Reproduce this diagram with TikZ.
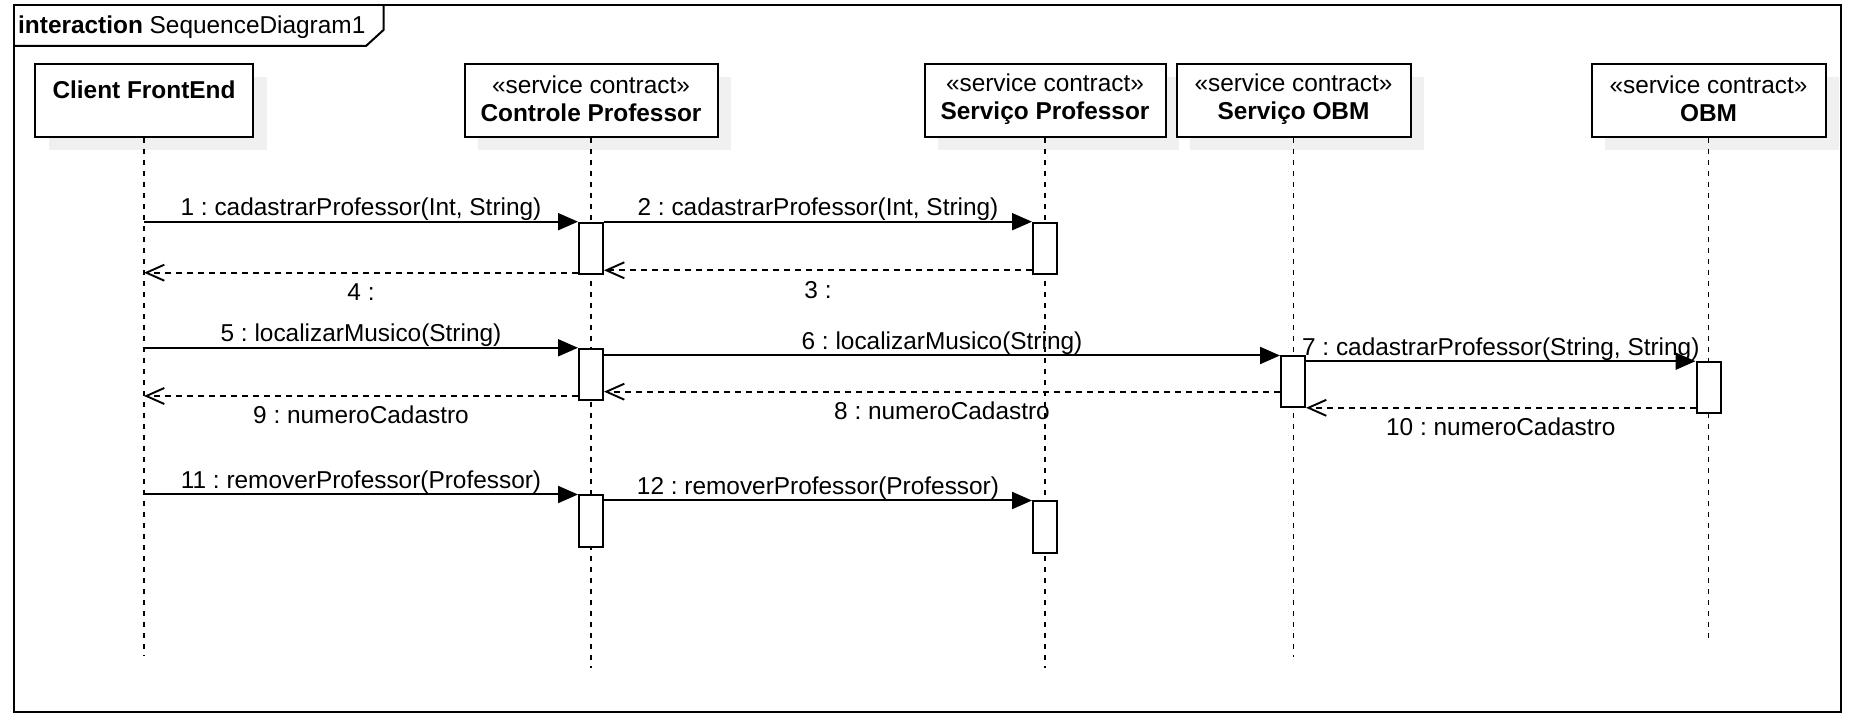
\documentclass[tikz,border=0pt]{standalone}
\usepackage{fontspec}
\setmainfont{Liberation Sans}
\usetikzlibrary{arrows.meta,shadows}
\frenchspacing

\begin{document}
\begin{tikzpicture}[x=0.5pt,y=-0.5pt,
		font=\fontsize{12.2}{14}\selectfont,
		head/.style={draw,line width=1pt,fill=white,minimum height=36.5pt,inner sep=0pt,
			general shadow={fill=black!6,shadow xshift=6.75pt,shadow yshift=-6.75pt}},
		headtxt/.style={align=center,inner sep=0pt},
		life/.style={line width=0.7pt,dash pattern=on 2.5pt off 3pt},
		act/.style={draw,line width=1pt,fill=white,minimum width=12pt,minimum height=25.5pt,inner sep=0pt},
		msg/.style={line width=1pt,-{Triangle[length=10pt,width=8.5pt]}},
		ret/.style={line width=0.95pt,dash pattern=on 3pt off 2.5pt,-{Straight Barb[length=9pt,width=8pt]}},
		up/.style={midway,above,inner sep=0pt,text height=0.75em,text depth=0.25em},
		down/.style={midway,below=5pt,inner sep=1pt,text height=0.75em,text depth=0.25em}]
		\useasboundingbox (0,0) rectangle (1851,715);

		\draw[line width=1pt] (14,5) rectangle (1841,712);
		\draw[line width=1pt] (14,46) -- (366,46) -- (383.5,30) -- (383.5,5);
		\node[anchor=west,inner sep=0pt] (title) at (17.8,27) {\textbf{interaction} SequenceDiagram1};

		\node[head,minimum width=109pt] (client) at (144,100.5) {};
		\node[head,minimum width=126.5pt] (ctrl) at (591,100.5) {};
		\node[head,minimum width=120.5pt] (sprof) at (1045,100.5) {};
		\node[head,minimum width=117pt] (sobm) at (1293.5,100.5) {};
		\node[head,minimum width=117pt] (obm) at (1708.5,100.5) {};

		\node[headtxt] (client-t) at ([yshift=5.25pt]client.center) {\textbf{Client FrontEnd}};
		\node[headtxt] (ctrl-t) at ([yshift=0.75pt]ctrl.center) {«service contract»\\\textbf{Controle Professor}};
		\node[headtxt] (sprof-t) at ([yshift=0.75pt]sprof.center) {«service contract»\\\textbf{Serviço Professor}};
		\node[headtxt] (sobm-t) at ([yshift=0.75pt]sobm.center) {«service contract»\\\textbf{Serviço OBM}};
		\node[headtxt] (obm-t) at ([yshift=0.75pt]obm.center) {«service contract»\\\textbf{OBM}};

		\foreach \n/\e in {client/656,ctrl/668,sprof/668,sobm/657,obm/643}
			\draw[life] (\n.south) -- (\n |- 0,\e);

		\node[act] (a1) at (591,248.2) {};
		\node[act] (b1) at (1045,248.2) {};
		\node[act] (a2) at (591,374.3) {};
		\node[act] (c1) at (1293,382) {};
		\node[act] (d1) at (1708.5,387.7) {};
		\node[act] (a3) at (591,521) {};
		\node[act] (b2) at (1045,527) {};

		\draw[msg] (client |- a1.north) -- node[up] {1 : cadastrarProfessor(Int, String)} (a1.north west);
		\draw[msg] (a1.north east) -- node[up] {2 : cadastrarProfessor(Int, String)} (b1.north west);
		\draw[ret] ([yshift=2.2pt]b1.south west) -- node[down] {3 :} ([yshift=2.2pt]b1.south west -| a1.east);
		\draw[ret] ([yshift=1pt]a1.south west) -- node[down] {4 :} ([yshift=1pt]a1.south west -| client);
		\draw[msg] (client |- a2.north) -- node[up] {5 : localizarMusico(String)} (a2.north west);
		\draw[msg] (a2.east |- c1.north) -- node[up] {6 : localizarMusico(String)} (c1.north west);
		\draw[msg] (c1.east |- d1.north) -- node[up] {7 : cadastrarProfessor(String, String)} (d1.north west);
		\draw[ret] ([yshift=8.4pt]c1.south west) -- node[down] {8 : numeroCadastro} ([yshift=8.4pt]c1.south west -| a2.east);
		\draw[ret] ([yshift=2.4pt]a2.south west) -- node[down] {9 : numeroCadastro} ([yshift=2.4pt]a2.south west -| client);
		\draw[ret] ([yshift=3.2pt]d1.south west) -- node[down] {10 : numeroCadastro} ([yshift=3.2pt]d1.south west -| c1.east);
		\draw[msg] (client |- a3.north) -- node[up] {11 : removerProfessor(Professor)} (a3.north west);
		\draw[msg] (a3.east |- b2.north) -- node[up] {12 : removerProfessor(Professor)} (b2.north west);
	\end{tikzpicture}
\end{document}
